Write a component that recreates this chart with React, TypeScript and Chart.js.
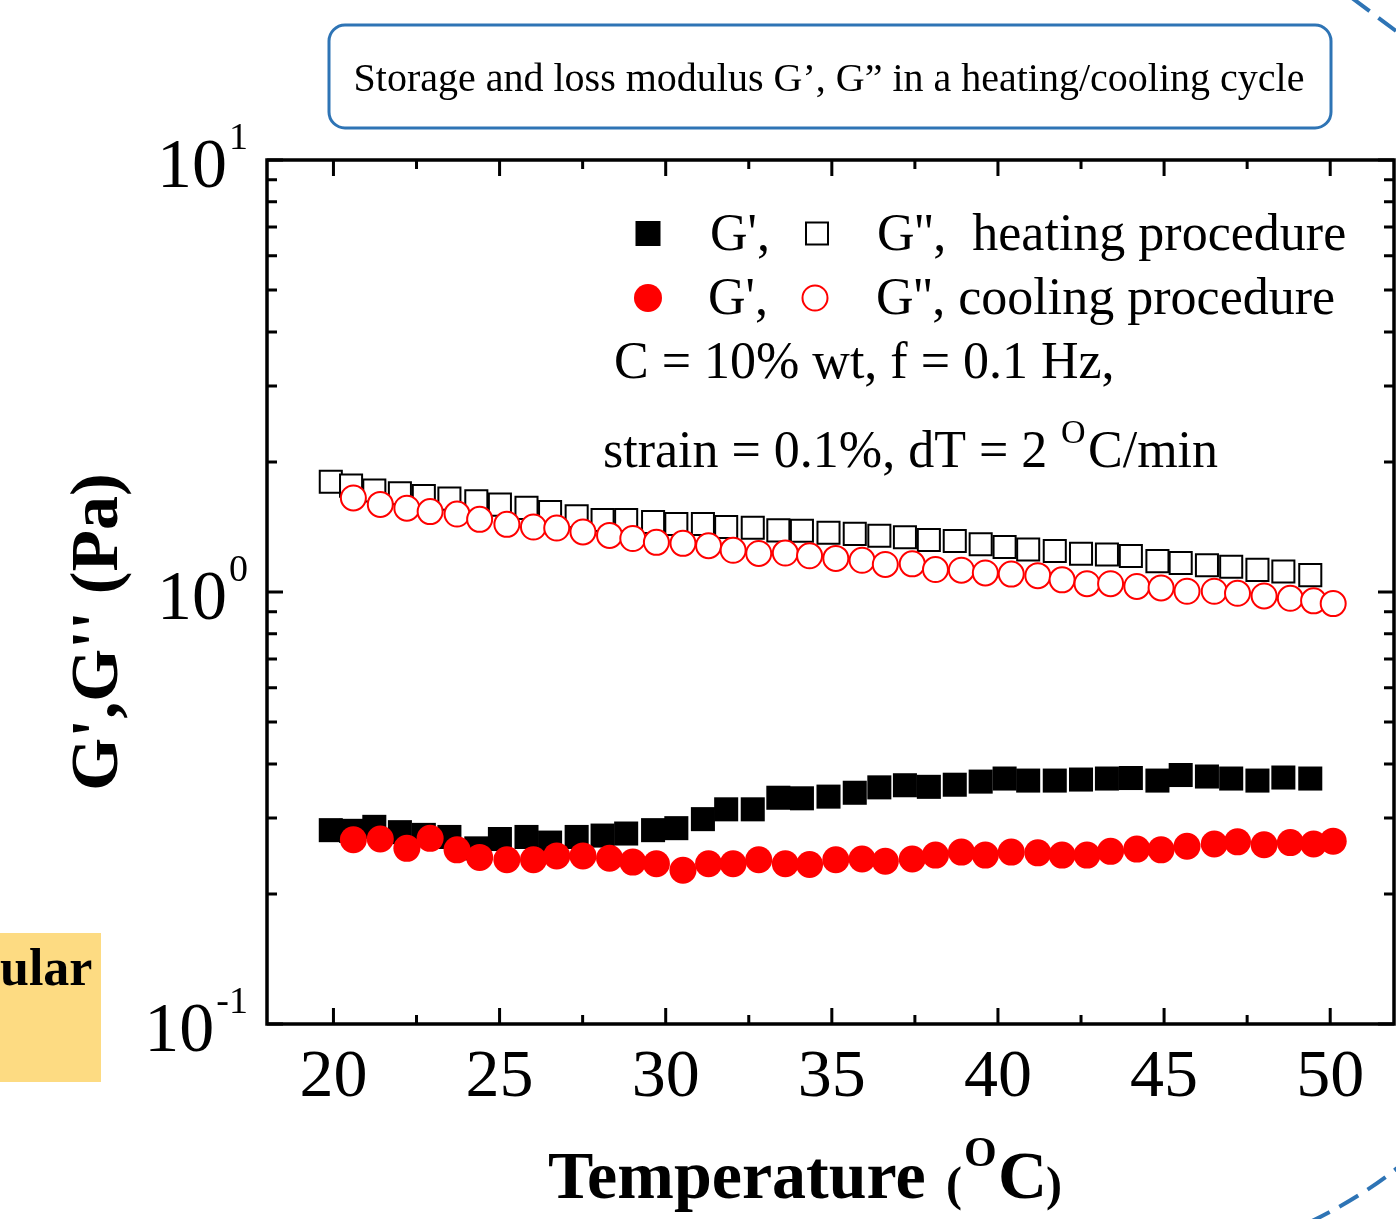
import React, { useEffect, useRef } from "react";
import { Chart, registerables } from "chart.js";

Chart.register(...registerables);

const FONT = "'Liberation Serif', 'Times New Roman', Times, serif";

// Heating procedure (temperature in °C, modulus in Pa)
const heatT = [19.92, 20.53, 21.23, 22.0, 22.72, 23.49, 24.3, 25.01, 25.81, 26.52, 27.32, 28.1, 28.81, 29.62, 30.32, 31.12, 31.82, 32.62, 33.39, 34.1, 34.9, 35.69, 36.43, 37.2, 37.92, 38.7, 39.48, 40.2, 40.91, 41.71, 42.5, 43.28, 44.0, 44.8, 45.5, 46.29, 47.02, 47.81, 48.59, 49.4];
const heatGp = [0.281, 0.28, 0.286, 0.278, 0.274, 0.271, 0.255, 0.268, 0.271, 0.263, 0.271, 0.273, 0.276, 0.281, 0.284, 0.298, 0.314, 0.314, 0.334, 0.333, 0.336, 0.343, 0.353, 0.357, 0.354, 0.358, 0.364, 0.37, 0.366, 0.366, 0.368, 0.37, 0.371, 0.366, 0.377, 0.374, 0.37, 0.366, 0.372, 0.37];
const heatGpp = [1.8, 1.763, 1.717, 1.693, 1.668, 1.645, 1.622, 1.593, 1.566, 1.532, 1.498, 1.468, 1.468, 1.452, 1.437, 1.437, 1.414, 1.409, 1.389, 1.386, 1.372, 1.363, 1.349, 1.339, 1.319, 1.312, 1.29, 1.271, 1.254, 1.244, 1.226, 1.221, 1.212, 1.179, 1.167, 1.153, 1.144, 1.125, 1.116, 1.094];

// Cooling procedure
const coolT = [20.6, 21.41, 22.21, 22.91, 23.72, 24.4, 25.22, 26.02, 26.72, 27.51, 28.31, 29.01, 29.72, 30.52, 31.29, 32.03, 32.8, 33.6, 34.33, 35.12, 35.91, 36.61, 37.42, 38.12, 38.9, 39.62, 40.4, 41.2, 41.93, 42.68, 43.39, 44.18, 44.91, 45.69, 46.51, 47.21, 48.01, 48.8, 49.5, 50.09];
const coolGp = [0.267, 0.268, 0.255, 0.269, 0.253, 0.243, 0.24, 0.24, 0.245, 0.245, 0.242, 0.237, 0.235, 0.227, 0.235, 0.235, 0.24, 0.235, 0.234, 0.24, 0.241, 0.238, 0.241, 0.246, 0.25, 0.246, 0.25, 0.249, 0.246, 0.246, 0.251, 0.254, 0.253, 0.258, 0.261, 0.264, 0.26, 0.263, 0.261, 0.265];
const coolGpp = [1.651, 1.595, 1.563, 1.535, 1.515, 1.473, 1.434, 1.414, 1.406, 1.377, 1.352, 1.33, 1.303, 1.296, 1.28, 1.249, 1.228, 1.231, 1.213, 1.196, 1.184, 1.158, 1.162, 1.127, 1.123, 1.107, 1.1, 1.091, 1.067, 1.045, 1.045, 1.03, 1.022, 1.004, 1.004, 0.993, 0.979, 0.967, 0.954, 0.94];

// Axes
const xMajorTicks = [20, 25, 30, 35, 40, 45, 50];
const xMinorTicks = [22.5, 27.5, 32.5, 37.5, 42.5, 47.5];
const yMajorTicks = [0.1, 1, 10];
const yMajorExp = ["-1", "0", "1"];
const yMinorTicks = [0.2, 0.3, 0.4, 0.5, 0.6, 0.7, 0.8, 0.9, 2, 3, 4, 5, 6, 7, 8, 9];

const titleText = "Storage and loss modulus G\u2019, G\u201D in a heating/cooling cycle";

const pts = (xs: number[], ys: number[]) => xs.map((x, i) => ({ x, y: ys[i] }));

const overlay = {
  id: "overlay",
  afterDraw(chart: any) {
    const ctx: CanvasRenderingContext2D = chart.ctx;
    const { left, right, top, bottom } = chart.chartArea;
    const xs = chart.scales.x;
    const ys = chart.scales.y;
    ctx.save();
    ctx.fillStyle = "#000";
    ctx.strokeStyle = "#000";

    // frame
    ctx.lineWidth = 3.5;
    ctx.strokeRect(left, top, right - left, bottom - top);

    // ticks (inward)
    ctx.lineWidth = 3;
    ctx.beginPath();
    xMajorTicks.forEach((v) => {
      const p = xs.getPixelForValue(v);
      ctx.moveTo(p, bottom); ctx.lineTo(p, bottom - 16);
      ctx.moveTo(p, top); ctx.lineTo(p, top + 16);
    });
    xMinorTicks.forEach((v) => {
      const p = xs.getPixelForValue(v);
      ctx.moveTo(p, bottom); ctx.lineTo(p, bottom - 9);
      ctx.moveTo(p, top); ctx.lineTo(p, top + 9);
    });
    yMajorTicks.forEach((v) => {
      const p = ys.getPixelForValue(v);
      ctx.moveTo(left, p); ctx.lineTo(left + 16, p);
      ctx.moveTo(right, p); ctx.lineTo(right - 16, p);
    });
    yMinorTicks.forEach((v) => {
      const p = ys.getPixelForValue(v);
      ctx.moveTo(left, p); ctx.lineTo(left + 10, p);
      ctx.moveTo(right, p); ctx.lineTo(right - 10, p);
    });
    ctx.stroke();

    // x tick labels
    ctx.font = `68px ${FONT}`;
    ctx.textAlign = "center";
    ctx.textBaseline = "alphabetic";
    xMajorTicks.forEach((v) => {
      ctx.fillText(String(v), xs.getPixelForValue(v), 1096);
    });

    // y tick labels 10^n
    yMajorTicks.forEach((v, i) => {
      const p = ys.getPixelForValue(v);
      const exp = yMajorExp[i];
      ctx.font = `38px ${FONT}`;
      const ew = ctx.measureText(exp).width;
      ctx.textAlign = "left";
      const expX = 248 - ew;
      ctx.fillText(exp, expX, p - 11);
      ctx.font = `70px ${FONT}`;
      ctx.textAlign = "right";
      ctx.fillText("10", expX - 2, p + 27);
    });

    // y axis title
    ctx.save();
    ctx.translate(117, 632);
    ctx.rotate(-Math.PI / 2);
    ctx.textAlign = "center";
    ctx.font = `bold 68px ${FONT}`;
    ctx.fillText("G',G'' (Pa)", 0, 0);
    ctx.restore();

    // x axis title
    ctx.textAlign = "left";
    ctx.font = `bold 68px ${FONT}`;
    ctx.fillText("Temperature", 548, 1198);
    ctx.font = `bold 48px ${FONT}`;
    ctx.fillText("(", 946, 1200);
    ctx.font = `bold 42px ${FONT}`;
    ctx.fillText("O", 964, 1166);
    ctx.font = `bold 68px ${FONT}`;
    ctx.fillText("C", 998, 1198);
    ctx.font = `bold 48px ${FONT}`;
    ctx.fillText(")", 1046, 1200);

    // legend
    ctx.fillStyle = "#000";
    ctx.fillRect(648 - 12.5, 233.5 - 12.5, 25, 25);
    ctx.fillStyle = "#fff";
    ctx.lineWidth = 2;
    ctx.fillRect(817 - 11, 233.5 - 11, 22, 22);
    ctx.strokeRect(817 - 11, 233.5 - 11, 22, 22);
    ctx.fillStyle = "#ff0000";
    ctx.beginPath();
    ctx.arc(648, 298, 14, 0, Math.PI * 2);
    ctx.fill();
    ctx.strokeStyle = "#ff0000";
    ctx.beginPath();
    ctx.arc(815, 298, 12.5, 0, Math.PI * 2);
    ctx.stroke();

    ctx.fillStyle = "#000";
    ctx.font = `52px ${FONT}`;
    ctx.fillText("G',", 710, 250);
    ctx.fillText("G'',  heating procedure", 877, 250);
    ctx.fillText("G',", 708, 314);
    ctx.fillText("G'', cooling procedure", 876, 314);
    ctx.fillText("C = 10% wt, f = 0.1 Hz,", 614, 378);
    ctx.fillText("strain = 0.1%, dT = 2", 603, 467);
    ctx.font = `34px ${FONT}`;
    ctx.fillText("O", 1061, 443);
    ctx.font = `52px ${FONT}`;
    ctx.fillText("C/min", 1088, 467);

    // slide decorations: title box
    ctx.strokeStyle = "#2e74b5";
    ctx.lineWidth = 3;
    ctx.beginPath();
    (ctx as any).roundRect(329, 25, 1002, 103, 16);
    ctx.stroke();
    ctx.fillStyle = "#000";
    ctx.font = `40px ${FONT}`;
    ctx.textAlign = "center";
    ctx.fillText(titleText, 829, 91);

    // yellow box at the left
    ctx.fillStyle = "#fddb82";
    ctx.fillRect(0, 933, 101, 149);
    ctx.fillStyle = "#000";
    ctx.textAlign = "left";
    ctx.font = `bold 52px ${FONT}`;
    ctx.fillText("ular", 0, 985);

    // dashed blue arcs at the right
    ctx.strokeStyle = "#2e74b5";
    ctx.lineWidth = 4;
    ctx.setLineDash([22, 11]);
    ctx.beginPath();
    ctx.moveTo(1352, -2);
    ctx.quadraticCurveTo(1376, 16, 1400, 34);
    ctx.stroke();
    ctx.beginPath();
    ctx.moveTo(1310, 1222);
    ctx.quadraticCurveTo(1360, 1198, 1400, 1166);
    ctx.stroke();
    ctx.setLineDash([]);

    ctx.restore();
  },
};

export default function App() {
  const ref = useRef<HTMLCanvasElement>(null);
  useEffect(() => {
    const canvas = ref.current;
    if (!canvas) return;
    const chart = new Chart(canvas, {
      type: "scatter",
      data: {
        datasets: [
          {
            label: "G' cooling",
            data: pts(coolT, coolGp),
            pointStyle: "circle",
            pointRadius: 13.5,
            backgroundColor: "#ff0000",
            borderColor: "#ff0000",
            borderWidth: 0,
            clip: false as any,
          },
          {
            label: "G'' cooling",
            data: pts(coolT, coolGpp),
            pointStyle: "circle",
            pointRadius: 12.5,
            backgroundColor: "#ffffff",
            borderColor: "#ff0000",
            borderWidth: 2,
            clip: false as any,
          },
          {
            label: "G' heating",
            data: pts(heatT, heatGp),
            pointStyle: "rect",
            pointRadius: 17,
            backgroundColor: "#000000",
            borderColor: "#000000",
            borderWidth: 0,
            clip: false as any,
          },
          {
            label: "G'' heating",
            data: pts(heatT, heatGpp),
            pointStyle: "rect",
            pointRadius: 15.6,
            backgroundColor: "#ffffff",
            borderColor: "#000000",
            borderWidth: 2,
            clip: false as any,
          },
        ],
      },
      options: {
        animation: false,
        responsive: false,
        devicePixelRatio: 1,
        events: [],
        layout: { autoPadding: false, padding: { left: 267, right: 2, top: 160, bottom: 195 } },
        plugins: { legend: { display: false }, tooltip: { enabled: false } },
        scales: {
          x: { type: "linear", min: 18, max: 51.92, display: false },
          y: { type: "logarithmic", min: 0.1, max: 10, display: false },
        },
      },
      plugins: [overlay],
    });
    return () => chart.destroy();
  }, []);
  return (
    <div style={{ position: "absolute", left: 0, top: 0, width: 1396, height: 1219, background: "#fff" }}>
      <canvas ref={ref} width={1396} height={1219} style={{ display: "block", width: 1396, height: 1219 }} />
    </div>
  );
}
